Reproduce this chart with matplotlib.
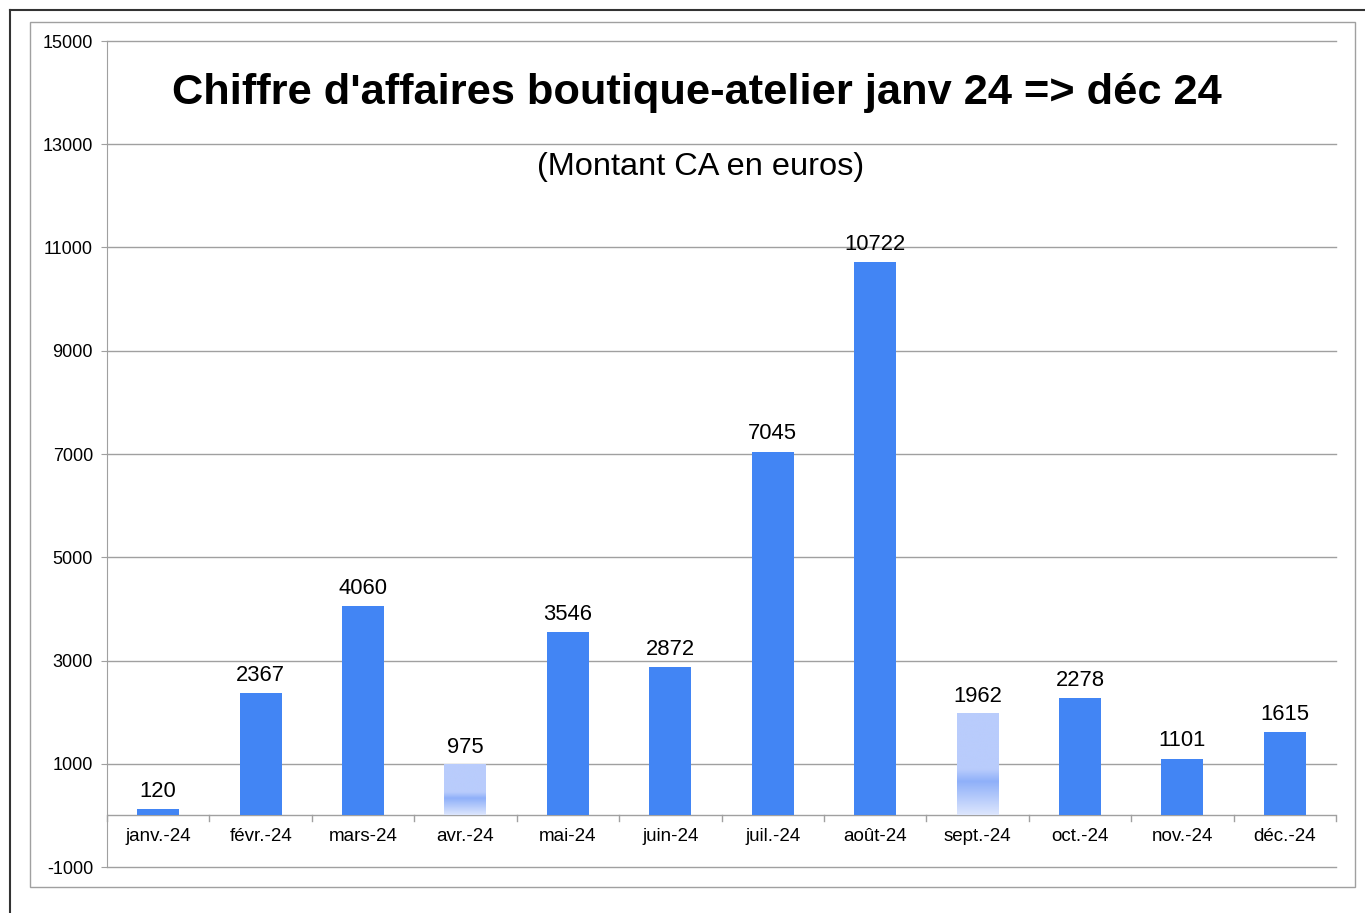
import matplotlib
matplotlib.use("Agg")
import matplotlib.pyplot as plt
import numpy as np
from matplotlib.patches import Rectangle
from matplotlib.lines import Line2D
from matplotlib.colors import LinearSegmentedColormap

plt.rcParams['font.family'] = ['Liberation Sans', 'DejaVu Sans']

categories = ["janv.-24", "févr.-24", "mars-24", "avr.-24", "mai-24", "juin-24",
              "juil.-24", "août-24", "sept.-24", "oct.-24", "nov.-24", "déc.-24"]
values = [120, 2367, 4060, 975, 3546, 2872, 7045, 10722, 1962, 2278, 1101, 1615]
light_bars = ["avr.-24", "sept.-24"]
yticks = [-1000, 1000, 3000, 5000, 7000, 9000, 11000, 13000, 15000]

title = "Chiffre d'affaires boutique-atelier janv 24 => déc 24"
subtitle = "(Montant CA en euros)"

W, H = 1365, 913
fig = plt.figure(figsize=(W / 100, H / 100), dpi=100)

# outer frames
fig.add_artist(Line2D([10 / W, 10 / W], [0, 1 - 10 / H], transform=fig.transFigure, color="#333333", lw=1.5))
fig.add_artist(Line2D([10 / W, 1], [1 - 10 / H, 1 - 10 / H], transform=fig.transFigure, color="#333333", lw=1.5))
fig.add_artist(Rectangle((30 / W, 1 - 887 / H), (1355 - 30) / W, (887 - 22) / H,
                         transform=fig.transFigure, fill=False, ec="#A0A0A0", lw=1))

left, right, top, bottom = 107, 1336, 41, 867
ax = fig.add_axes([left / W, 1 - bottom / H, (right - left) / W, (bottom - top) / H])
ax.set_xlim(-0.5, len(categories) - 0.5)
ax.set_ylim(-1000, 15000)

for s in ["top", "right", "bottom"]:
    ax.spines[s].set_visible(False)
ax.spines["left"].set_color("#A0A0A0")
ax.set_yticks(yticks)
ax.set_yticklabels([str(v) for v in yticks], fontsize=13)
ax.tick_params(axis="y", length=4, color="#A0A0A0", pad=6)
ax.set_xticks([])
for y in yticks:
    ax.axhline(y, color="#A0A0A0", lw=1, zorder=0, clip_on=False)
ax.axhline(0, color="#A0A0A0", lw=1, zorder=1)

x = np.arange(len(categories))
bw = 0.41
blue = "#4285F4"
cmap = LinearSegmentedColormap.from_list(
    "lightgrad",
    [(0.0, "#DDE6FD"), (0.33, "#8FB0F9"), (0.45, "#B9CCFC"), (1.0, "#B9CCFC")])
for xi, cat, v in zip(x, categories, values):
    if cat in light_bars:
        grad = np.linspace(0, 1, 256).reshape(-1, 1)
        ax.imshow(grad, extent=(xi - bw / 2, xi + bw / 2, 0, v), origin="lower",
                  cmap=cmap, aspect="auto", zorder=2, interpolation="bilinear")
    else:
        ax.bar(xi, v, width=bw, color=blue, zorder=2)
    ax.text(xi, v + 140, str(v), ha="center", va="bottom", fontsize=15.8)
    ax.text(xi, -400, cat, ha="center", va="center", fontsize=13.5)

for b in np.arange(-0.5, len(categories) + 0.5, 1.0):
    ax.plot([b, b], [0, -100], color="#A0A0A0", lw=1, clip_on=False, zorder=1)

ax.set_xlim(-0.5, len(categories) - 0.5)
ax.set_ylim(-1000, 15000)

fig.text(697 / W, 1 - 93 / H, title, ha="center", va="center", fontsize=31.2, fontweight="bold")
fig.text(701 / W, 1 - 167 / H, subtitle, ha="center", va="center", fontsize=23.4)

fig.savefig("out.png", dpi=100)
